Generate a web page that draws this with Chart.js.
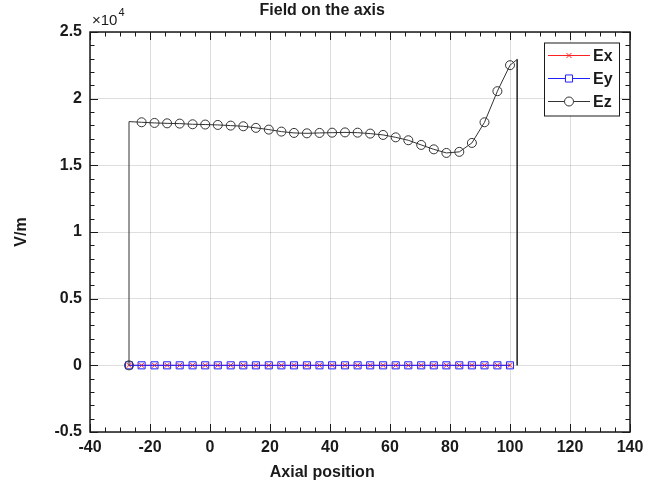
<!DOCTYPE html>
<html>
<head>
<meta charset="utf-8">
<title>Field on the axis</title>
<script src="https://cdn.jsdelivr.net/npm/chart.js@4.4.0/dist/chart.umd.min.js"></script>
<style>
  html, body { margin: 0; padding: 0; background: #fff; }
  canvas { display: block; }
</style>
</head>
<body>
<canvas id="fieldChart" width="666" height="493"></canvas>
<script>
// ----------- DATA -----------
// axial positions of the sampled points
const axialPos = [-27.0, -22.8, -18.5, -14.3, -10.1, -5.8, -1.6, 2.6, 6.9, 11.1,
  15.3, 19.6, 23.8, 28.0, 32.3, 36.5, 40.7, 45.0, 49.2, 53.4,
  57.7, 61.9, 66.1, 70.4, 74.6, 78.8, 83.1, 87.3, 91.5, 95.8, 100.0];

// field components in V/m
const exField = [0, 0, 0, 0, 0, 0, 0, 0, 0, 0, 0, 0, 0, 0, 0, 0, 0, 0, 0, 0,
  0, 0, 0, 0, 0, 0, 0, 0, 0, 0, 0];
const eyField = [0, 0, 0, 0, 0, 0, 0, 0, 0, 0, 0, 0, 0, 0, 0, 0, 0, 0, 0, 0,
  0, 0, 0, 0, 0, 0, 0, 0, 0, 0, 0];
const ezField = [0, 18230, 18180, 18150, 18130, 18080, 18060, 18030, 17980, 17930,
  17810, 17680, 17530, 17430, 17400, 17430, 17450, 17470, 17450, 17380,
  17280, 17100, 16880, 16530, 16200, 15930, 16010, 16680, 18230, 20560, 22510];

// Ez steps up / down at both ends of the field region
const ezEdgePos = [-27.0, 102.4];
const ezEdgeTop = [18280, 22940];

const xMin = -40, xMax = 140, xStep = 20, xMinor = 5;
const yMin = -5000, yMax = 25000, yStep = 5000, yMinor = 1000;

const legendNames = ['Ex', 'Ey', 'Ez'];

// ----------- BUILD POINTS -----------
const exPoints = axialPos.map((x, i) => ({ x: x, y: exField[i] }));
const eyPoints = axialPos.map((x, i) => ({ x: x, y: eyField[i] }));

const ezPoints = [{ x: axialPos[0], y: ezField[0] }, { x: ezEdgePos[0], y: ezEdgeTop[0] }];
const ezRadius = [4.5, 0];
for (let i = 1; i < axialPos.length; i++) {
  ezPoints.push({ x: axialPos[i], y: ezField[i] });
  ezRadius.push(4.5);
}
ezPoints.push({ x: ezEdgePos[1], y: ezEdgeTop[1] });
ezPoints.push({ x: ezEdgePos[1], y: 0 });
ezRadius.push(0, 0);

const FONT = '"Liberation Sans", Arial, sans-serif';
const INK = '#1a1a1a';

// ----------- FRAME, INWARD TICKS, TITLES, LEGEND -----------
const matlabFrame = {
  id: 'matlabFrame',
  afterDraw(chart) {
    const ctx = chart.ctx;
    const a = chart.chartArea;
    const xs = chart.scales.x, ys = chart.scales.y;
    ctx.save();

    // inward ticks on all four sides
    ctx.strokeStyle = INK;
    ctx.lineWidth = 1;
    ctx.beginPath();
    for (let v = xMin; v <= xMax; v += xMinor) {
      const px = Math.round(xs.getPixelForValue(v)) + 0.5;
      const len = (v % xStep === 0) ? 8 : 4.5;
      ctx.moveTo(px, a.bottom); ctx.lineTo(px, a.bottom - len);
      ctx.moveTo(px, a.top); ctx.lineTo(px, a.top + len);
    }
    for (let v = yMin; v <= yMax; v += yMinor) {
      const py = Math.round(ys.getPixelForValue(v)) + 0.5;
      const len = (v % yStep === 0) ? 8 : 4.5;
      ctx.moveTo(a.left, py); ctx.lineTo(a.left + len, py);
      ctx.moveTo(a.right, py); ctx.lineTo(a.right - len, py);
    }
    ctx.stroke();

    // axes box
    ctx.lineWidth = 1.5;
    ctx.strokeRect(a.left, a.top, a.right - a.left, a.bottom - a.top);

    // exponent label
    ctx.fillStyle = INK;
    ctx.textBaseline = 'middle';
    ctx.textAlign = 'left';
    ctx.font = '15px ' + FONT;
    ctx.fillText('\u00d710', a.left + 2, a.top - 11);
    const w = ctx.measureText('\u00d710').width;
    ctx.font = '11px ' + FONT;
    ctx.fillText('4', a.left + 3 + w, a.top - 19);

    // title and x label
    const midX = a.left + 0.43 * (a.right - a.left);
    ctx.font = 'bold 16px ' + FONT;
    ctx.textAlign = 'center';
    ctx.fillText('Field on the axis', midX, a.top - 21);
    ctx.fillText('Axial position', midX, a.bottom + 41);

    // legend
    const bx = a.right - 86, by = a.top + 10.5, bw = 75, bh = 73;
    ctx.fillStyle = '#fff';
    ctx.fillRect(bx, by, bw, bh);
    ctx.lineWidth = 1;
    ctx.strokeStyle = INK;
    ctx.strokeRect(bx + 0.5, by + 0.5, bw, bh);
    const rowY = [13, 36, 59];
    chart.data.datasets.forEach((ds, i) => {
      const y = by + rowY[i];
      ctx.strokeStyle = ds.borderColor;
      ctx.lineWidth = 1;
      ctx.beginPath();
      ctx.moveTo(bx + 4, y); ctx.lineTo(bx + 46, y);
      ctx.stroke();
      ctx.fillStyle = '#fff';
      ctx.strokeStyle = ds.pointBorderColor;
      Chart.helpers.drawPoint(ctx, {
        pointStyle: ds.pointStyle,
        radius: ds.legendRadius,
        borderWidth: 1
      }, bx + 25, y);
      ctx.fillStyle = INK;
      ctx.font = 'bold 16px ' + FONT;
      ctx.textAlign = 'left';
      ctx.fillText(legendNames[i], bx + 49, y + 1);
    });
    ctx.restore();
  }
};

// ----------- CHART -----------
const fieldCtx = document.getElementById('fieldChart').getContext('2d');

const fieldChart = new Chart(fieldCtx, {
  type: 'line',
  data: {
    datasets: [{
      label: legendNames[0],
      data: exPoints,
      borderColor: '#ff2020',
      borderWidth: 1,
      pointStyle: 'crossRot',
      pointRadius: 3.5,
      legendRadius: 3.5,
      pointBorderColor: '#ff2020',
      pointBackgroundColor: 'rgba(0,0,0,0)',
      pointBorderWidth: 1,
      order: 3
    }, {
      label: legendNames[1],
      data: eyPoints,
      borderColor: '#2020ff',
      borderWidth: 1,
      pointStyle: 'rect',
      pointRadius: 5,
      legendRadius: 5,
      pointBorderColor: '#2020ff',
      pointBackgroundColor: 'rgba(0,0,0,0)',
      pointBorderWidth: 1,
      order: 2
    }, {
      label: legendNames[2],
      data: ezPoints,
      borderColor: '#333333',
      borderWidth: 1,
      pointStyle: 'circle',
      pointRadius: ezRadius,
      legendRadius: 4.5,
      pointBorderColor: '#333333',
      pointBackgroundColor: 'rgba(0,0,0,0)',
      pointBorderWidth: 1,
      order: 1
    }]
  },
  options: {
    responsive: false,
    animation: false,
    devicePixelRatio: 1,
    layout: { padding: { top: 32, right: 36, left: 0, bottom: 0 } },
    elements: { line: { tension: 0, fill: false } },
    plugins: {
      legend: { display: false },
      tooltip: { enabled: false },
      title: { display: false }
    },
    scales: {
      x: {
        type: 'linear',
        min: xMin, max: xMax,
        afterFit: (s) => { s.height = 61; },
        ticks: { stepSize: xStep, color: INK, padding: 6, maxRotation: 0,
          font: { family: FONT, size: 16, weight: 'bold' } },
        grid: { color: 'rgba(0,0,0,0.13)', lineWidth: 1, drawTicks: false },
        border: { display: false }
      },
      y: {
        type: 'linear',
        min: yMin, max: yMax,
        afterFit: (s) => { s.width = 90; },
        ticks: { stepSize: yStep, color: INK, padding: 8,
          callback: (v) => String(v / 1e4),
          font: { family: FONT, size: 16, weight: 'bold' } },
        grid: { color: 'rgba(0,0,0,0.13)', lineWidth: 1, drawTicks: false },
        border: { display: false },
        title: { display: true, text: 'V/m', color: INK,
          padding: { top: 12, bottom: 0 },
          font: { family: FONT, size: 16, weight: 'bold' } }
      }
    }
  },
  plugins: [matlabFrame]
});
</script>
</body>
</html>
